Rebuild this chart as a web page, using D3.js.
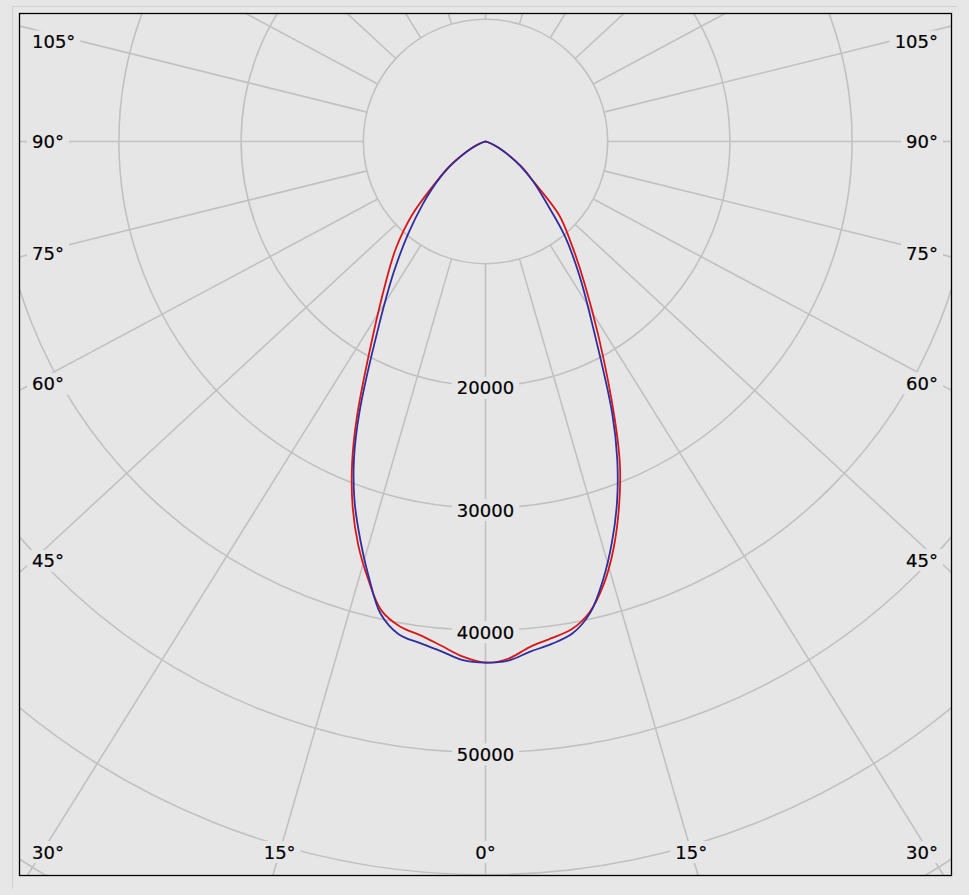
<!DOCTYPE html>
<html>
<head>
<meta charset="utf-8">
<script src="https://cdn.jsdelivr.net/npm/d3@7"></script>
<style>
  html, body { margin: 0; padding: 0; background: #e7e7e7; }
  svg { display: block; }
  text { font-family: "DejaVu Sans", Verdana, sans-serif; font-size: 18px; fill: #000; stroke: #000; stroke-width: 0.2px; }
</style>
</head>
<body>
<svg id="chart" width="969" height="895"></svg>
<script>
// ---------------- data ----------------
// gamma angles (degrees from nadir)
const gammaAngles = [0, 2.5, 5, 7.5, 10, 12.5, 15, 17.5, 20, 22.5, 25, 30, 35, 40, 45, 50, 55, 60, 65, 70, 75, 80, 85, 90];
// red curve (C0 - C180 plane): right half C0, left half C180  [cd]
const redRight  = [42650, 42370, 41530, 41010, 40540, 39430, 37460, 34880, 31920, 28760, 25010, 18560, 14100, 10930, 8530, 5200, 3600, 2100, 1150, 480, 150, 40, 10, 0];
const redLeft   = [42650, 42200, 41420, 40760, 40300, 39320, 37090, 34630, 31790, 28530, 24910, 18470, 14330, 11400, 8500, 5500, 3750, 2200, 1200, 500, 150, 40, 10, 0];
// blue curve (C90 - C270 plane): right half C90, left half C270  [cd]
const blueRight = [42650, 42520, 41910, 41470, 40890, 39530, 37150, 34400, 31460, 28180, 24530, 17630, 13410, 10110, 6980, 5100, 3500, 2100, 1150, 480, 150, 40, 10, 0];
const blueLeft  = [42650, 42490, 41860, 41390, 40940, 39610, 36900, 34110, 31330, 28130, 24390, 17490, 13120, 9820, 7270, 5300, 3600, 2100, 1150, 480, 150, 40, 10, 0];
// grid
const radialTicks  = [10000, 20000, 30000, 40000, 50000, 60000, 70000];
const radialLabels = [20000, 30000, 40000, 50000];
const gridAngles   = d3.range(-165, 181, 15);
const angleLabels  = [0, 15, 30, 45, 60, 75, 90, 105];

// ---------------- layout ----------------
const W = 969, H = 895;
const frame = { x: 19, y: 13, w: 933, h: 863 };
const cx = frame.x + frame.w / 2;
const cy = 141.5;
const k = frame.w / frame.h;            // aspect stretch applied to the radial grid lines
const BG = "#e6e6e6", GRID = "#c1c1c1";
const labelBox = { left: frame.x + 13, right: frame.x + frame.w - 14, top: frame.y + 28.5, bottom: frame.y + frame.h - 24 };

const rScale = d3.scaleLinear().domain([0, 10000]).range([0, 122.2]);
const rad = d => d * Math.PI / 180;

const svg = d3.select("#chart");
svg.append("rect").attr("width", W).attr("height", H).attr("fill", "#e7e7e7");
// outer window edge
svg.append("path")
  .attr("d", `M12.5,889 L12.5,6.5 L957,6.5`)
  .attr("fill", "none").attr("stroke", "#d2d2d2").attr("stroke-width", 1);

svg.append("clipPath").attr("id", "clip")
  .append("rect").attr("x", frame.x).attr("y", frame.y).attr("width", frame.w).attr("height", frame.h);

const g = svg.append("g").attr("clip-path", "url(#clip)");
g.append("rect").attr("x", frame.x).attr("y", frame.y).attr("width", frame.w).attr("height", frame.h).attr("fill", BG);

// circles
g.selectAll("circle.grid").data(radialTicks).join("circle")
  .attr("class", "grid")
  .attr("cx", cx).attr("cy", cy)
  .attr("r", d => rScale(d))
  .attr("fill", "none").attr("stroke", GRID).attr("stroke-width", 1.6);

// radial lines (start at the inner circle)
function dirOf(a, side) {
  const dx = side * k * Math.sin(rad(a)), dy = Math.cos(rad(a));
  const n = Math.hypot(dx, dy);
  return [dx / n, dy / n];
}
const r0 = rScale(radialTicks[0]);
g.selectAll("line.spoke").data(gridAngles).join("line")
  .attr("class", "spoke")
  .attr("x1", d => cx + dirOf(d, 1)[0] * r0)
  .attr("y1", d => cy + dirOf(d, 1)[1] * r0)
  .attr("x2", d => cx + dirOf(d, 1)[0] * 1600)
  .attr("y2", d => cy + dirOf(d, 1)[1] * 1600)
  .attr("stroke", GRID).attr("stroke-width", 1.6);

// label helper with background box
function boxedLabel(txt) {
  const lg = g.append("g");
  const rect = lg.append("rect").attr("fill", BG);
  const t = lg.append("text").attr("text-anchor", "middle").attr("dominant-baseline", "central").text(txt);
  const w = t.node().getComputedTextLength();
  return {
    w,
    place(x, y) {
      t.attr("x", x).attr("y", y);
      rect.attr("x", x - w / 2 - 5).attr("y", y - 11).attr("width", w + 10).attr("height", 22);
    }
  };
}

// radial value labels on the 0° axis
radialLabels.forEach(v => {
  boxedLabel(String(v)).place(cx, cy + rScale(v) + 2);
});

// angle labels: where the spoke meets the inset label rectangle (sides / bottom), clamped inside
angleLabels.forEach(a => {
  const sides = a === 0 ? [1] : [-1, 1];
  sides.forEach(side => {
    const [dx, dy] = dirOf(a, side);
    const ts = [];
    if (dx > 1e-9) ts.push((labelBox.right - cx) / dx);
    if (dx < -1e-9) ts.push((labelBox.left - cx) / dx);
    if (dy > 1e-9) ts.push((labelBox.bottom - cy) / dy);
    const t = Math.min(...ts);
    const L = boxedLabel(a + "°");
    let px = cx + dx * t, py = cy + dy * t;
    px = Math.max(labelBox.left + L.w / 2, Math.min(labelBox.right - L.w / 2, px));
    py = Math.max(labelBox.top, Math.min(labelBox.bottom, py));
    L.place(px, py);
  });
});

// curves
function curvePoints(left, right) {
  const pts = [];
  for (let i = gammaAngles.length - 1; i >= 0; i--) pts.push({ a: Math.PI + rad(gammaAngles[i]), v: left[i] });
  for (let i = 1; i < gammaAngles.length; i++) pts.push({ a: Math.PI - rad(gammaAngles[i]), v: right[i] });
  return pts;
}
const radial = d3.lineRadial().angle(d => d.a).radius(d => rScale(d.v)).curve(d3.curveCatmullRom.alpha(0.5));
const cg = g.append("g").attr("transform", `translate(${cx},${cy})`);
cg.append("path").attr("d", radial(curvePoints(redLeft, redRight)))
  .attr("fill", "none").attr("stroke", "#d81818").attr("stroke-width", 1.8);
cg.append("path").attr("d", radial(curvePoints(blueLeft, blueRight)))
  .attr("fill", "none").attr("stroke", "#2e2ea0").attr("stroke-width", 1.8);

// frame
svg.append("rect").attr("x", frame.x + 0.5).attr("y", frame.y + 0.5)
  .attr("width", frame.w - 1).attr("height", frame.h - 1)
  .attr("fill", "none").attr("stroke", "#000").attr("stroke-width", 1.3);
</script>
</body>
</html>
